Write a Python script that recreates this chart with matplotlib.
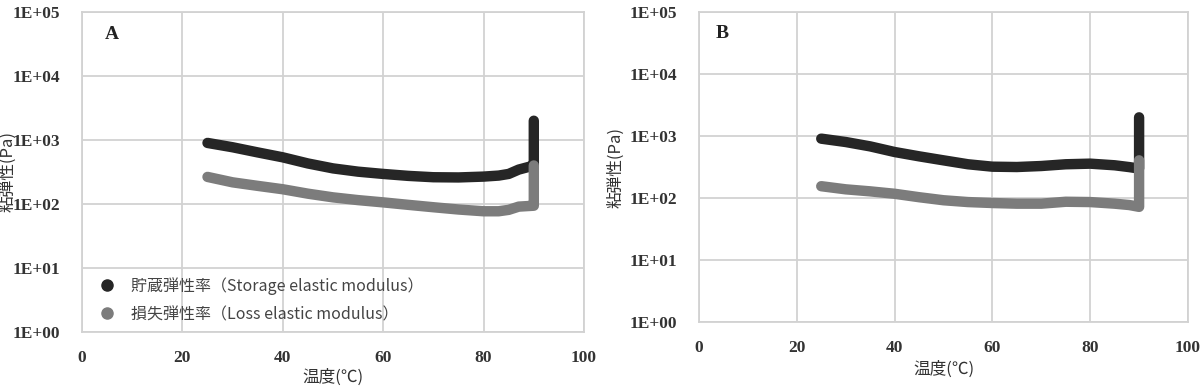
import matplotlib.pyplot as plt
from matplotlib.lines import Line2D
import matplotlib.ticker as mticker

plt.rcParams['font.family'] = ['Noto Sans CJK JP', 'DejaVu Sans']

# Panel A data (temperature in deg C, modulus in Pa)
temp_a = [25, 30, 35, 40, 45, 50, 55, 60, 65, 70, 75, 80, 83, 85, 87, 89, 90, 90]
storage_a = [900, 770, 640, 536, 430, 360, 320, 295, 275, 262, 260, 268, 278, 295, 345, 380, 400, 2000]
loss_a = [265, 218, 192, 170, 145, 127, 115, 106, 97, 89, 82, 77, 77, 81, 91, 93, 94, 400]

# Panel B data
temp_b = [25, 30, 35, 40, 45, 50, 55, 60, 65, 70, 75, 80, 85, 88, 90, 90]
storage_b = [906, 800, 680, 552, 470, 405, 350, 320, 316, 328, 350, 358, 337, 315, 298, 2000]
loss_b = [155, 138, 128, 117, 103, 92, 86, 83, 81, 81, 87, 86, 81, 77, 72, 405]

yticks = [1, 10, 100, 1000, 10000, 100000]
ytick_labels = ['1E+00', '1E+01', '1E+02', '1E+03', '1E+04', '1E+05']
xticks = [0, 20, 40, 60, 80, 100]

dark = '#262626'
grey = '#7c7c7c'
serif = 'Liberation Serif'
lw = 7.5

fig = plt.figure(figsize=(12, 3.87), dpi=100)
ax_a = fig.add_axes([82 / 1200, 55 / 387, 502 / 1200, 320 / 387])
ax_b = fig.add_axes([699 / 1200, 65 / 387, 489 / 1200, 310 / 387])


def style(ax, letter, lx):
    ax.set_yscale('log')
    ax.set_xlim(0, 100)
    ax.set_ylim(1, 100000)
    ax.set_yticks(yticks)
    ax.set_yticklabels(ytick_labels)
    ax.yaxis.set_minor_locator(mticker.NullLocator())
    ax.set_xticks(xticks)
    ax.grid(True, color='#d2d2d2', linewidth=1.3)
    ax.set_axisbelow(True)
    for s in ax.spines.values():
        s.set_color('#d2d2d2')
        s.set_linewidth(1.3)
    ax.tick_params(axis='x', length=0, pad=13)
    ax.tick_params(axis='y', length=0, pad=16)
    for lab in ax.get_xticklabels() + ax.get_yticklabels():
        lab.set_fontfamily(serif)
        lab.set_fontweight('bold')
        lab.set_fontsize(12.5)
        lab.set_color('#333333')
    ax.text(lx, 0.93, letter, transform=ax.transAxes, fontfamily=serif,
            fontweight='bold', fontsize=14, color='#222222', ha='center', va='center')
    ax.set_xlabel('温度(℃)', fontsize=12, color='#333333')
    ax.set_ylabel('粘弾性(Pa)', fontsize=12, color='#333333')


ax_a.plot(temp_a, storage_a, color=dark, linewidth=lw, solid_capstyle='round', solid_joinstyle='round')
ax_a.plot(temp_a, loss_a, color=grey, linewidth=lw, solid_capstyle='round', solid_joinstyle='round')
ax_b.plot(temp_b, storage_b, color=dark, linewidth=lw, solid_capstyle='round', solid_joinstyle='round')
ax_b.plot(temp_b, loss_b, color=grey, linewidth=lw, solid_capstyle='round', solid_joinstyle='round')

style(ax_a, 'A', 0.06)
style(ax_b, 'B', 0.047)

ax_a.xaxis.set_label_coords(0.5, -0.116)
ax_a.yaxis.set_label_coords(-0.131, 0.5)
ax_b.xaxis.set_label_coords(0.5, -0.126)
ax_b.yaxis.set_label_coords(-0.153, 0.5)

handles = [
    Line2D([], [], linestyle='none', marker='o', markersize=8, color=dark),
    Line2D([], [], linestyle='none', marker='o', markersize=8, color=grey),
]
labels = ['貯蔵弾性率（Storage elastic modulus）', '損失弾性率（Loss elastic modulus）']
ax_a.legend(handles, labels, loc='center left', bbox_to_anchor=(0.033, 0.1), frameon=False,
            fontsize=11.5, handlelength=1.0, handletextpad=1.0, labelspacing=0.7,
            labelcolor='#444444', borderaxespad=0, borderpad=0)

fig.savefig('out.png', dpi=100)
